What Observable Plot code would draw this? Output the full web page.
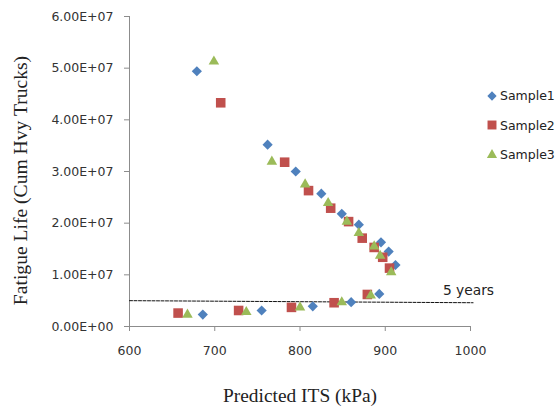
<!DOCTYPE html>
<html>
<head>
<meta charset="utf-8">
<script src="https://cdn.jsdelivr.net/npm/d3@7"></script>
<script src="https://cdn.jsdelivr.net/npm/@observablehq/plot@0.6"></script>
<style>
  html, body { margin: 0; padding: 0; background: #fff; }
  #wrap { position: relative; width: 556px; height: 409px; }
  #legend { position: absolute; left: 486px; top: 81px; font-family: "DejaVu Sans", sans-serif; font-size: 12.5px; color: #222; }
  #legend .row { display: flex; align-items: center; height: 29.5px; }
  #legend svg { width: 12px; height: 12px; margin-right: 2px; }
</style>
</head>
<body>
<div id="wrap"></div>
<script>
// ---- data ----
const seriesNames = ["Sample1", "Sample2", "Sample3"];
const seriesColors = ["#4F81BD", "#C0504D", "#9BBB59"];
const seriesSymbols = ["diamond2", "square", "triangle"];

const sample1X = [679, 762, 795, 825, 849, 869, 895, 904, 912, 893, 860, 815, 755, 686];
const sample1Y = [4.94e7, 3.52e7, 3.00e7, 2.57e7, 2.18e7, 1.97e7, 1.63e7, 1.45e7, 1.19e7, 6.3e6, 4.7e6, 3.9e6, 3.1e6, 2.3e6];

const sample2X = [707, 782, 810, 836, 857, 873, 887, 897, 905, 879, 840, 790, 728, 657];
const sample2Y = [4.33e7, 3.18e7, 2.63e7, 2.29e7, 2.03e7, 1.71e7, 1.53e7, 1.34e7, 1.13e7, 6.2e6, 4.6e6, 3.7e6, 3.1e6, 2.6e6];

const sample3X = [699, 767, 806, 833, 855, 869, 887, 894, 907, 883, 849, 800, 737, 668];
const sample3Y = [5.13e7, 3.19e7, 2.75e7, 2.39e7, 2.03e7, 1.81e7, 1.55e7, 1.37e7, 1.05e7, 6.0e6, 4.7e6, 3.7e6, 2.8e6, 2.3e6];

const thresholdX = [600, 1003];
const thresholdY = [5.0e6, 4.6e6];
const thresholdLabel = "5 years";

const xTicks = [600, 700, 800, 900, 1000];
const yTicks = [0, 1e7, 2e7, 3e7, 4e7, 5e7, 6e7];
const xTitle = "Predicted ITS (kPa)";
const yTitle = "Fatigue Life (Cum Hvy Trucks)";

// ---- build tables ----
const allX = [sample1X, sample2X, sample3X];
const allY = [sample1Y, sample2Y, sample3Y];
const points = [];
allX.forEach((xs, s) => xs.forEach((x, i) => points.push({series: seriesNames[s], x, y: allY[s][i], s})));
const threshold = thresholdX.map((x, i) => ({x, y: thresholdY[i]}));

function sci(d) {
  if (d === 0) return "0.00E+00";
  const e = Math.floor(Math.log10(Math.abs(d)));
  const m = d / Math.pow(10, e);
  return m.toFixed(2) + "E" + (e >= 0 ? "+" : "-") + String(Math.abs(e)).padStart(2, "0");
}

const sans = "'DejaVu Sans', sans-serif";
const serif = "'Liberation Serif', 'DejaVu Serif', serif";
const axisColor = "#8c8c8c";

const markSets = [0, 1, 2].map(s => Plot.dot(points.filter(p => p.s === s), {
  x: "x", y: "y",
  symbol: () => seriesSymbols[s],
  fill: seriesColors[s],
  stroke: "none",
  r: s === 0 ? 4.6 : s === 1 ? 5.4 : 3.9
}));

const chart = Plot.plot({
  width: 556,
  height: 409,
  marginLeft: 129,
  marginRight: 86,
  marginTop: 16,
  marginBottom: 83,
  style: {background: "#fff", overflow: "visible"},
  x: {domain: [600, 1000]},
  y: {domain: [0, 6e7]},
  symbol: {type: "identity"},
  marks: [
    Plot.ruleX([600], {stroke: axisColor, strokeWidth: 1}),
    Plot.ruleY([0], {stroke: axisColor, strokeWidth: 1}),
    Plot.axisX({ticks: xTicks, tickSize: 5, tickPadding: 15, stroke: axisColor, color: "#333", fontSize: 12.5, fontFamily: sans, tickFormat: d => String(d), label: null}),
    Plot.axisY({ticks: yTicks, tickSize: 5, tickPadding: 11, stroke: axisColor, color: "#333", fontSize: 12.5, fontFamily: sans, tickFormat: sci, label: null}),
    Plot.line(threshold, {x: "x", y: "y", stroke: "#111", strokeWidth: 1, strokeDasharray: "3,1.5"}),
    Plot.text([threshold[threshold.length - 1]], {x: "x", y: "y", text: () => thresholdLabel, textAnchor: "end", dx: 21, dy: -12, fontSize: 13.8, fontFamily: sans, fill: "#222"}),
    ...markSets,
    Plot.text([xTitle], {text: d => d, frameAnchor: "bottom", textAnchor: "middle", dy: 75, fontSize: 19.4, fontFamily: serif, fill: "#222"}),
    Plot.text([yTitle], {text: d => d, frameAnchor: "left", textAnchor: "middle", rotate: -90, dx: -109, dy: 9, fontSize: 19.6, fontFamily: serif, fill: "#222"})
  ]
});

const wrap = document.getElementById("wrap");
wrap.appendChild(chart);

// ---- legend ----
const legend = document.createElement("div");
legend.id = "legend";
seriesNames.forEach((name, s) => {
  const row = document.createElement("div");
  row.className = "row";
  const sym = seriesSymbols[s] === "diamond2" ? d3.symbolDiamond2 : seriesSymbols[s] === "square" ? d3.symbolSquare : d3.symbolTriangle;
  const size = s === 0 ? 55 : s === 1 ? 80 : 45;
  const path = d3.symbol(sym, size)();
  row.innerHTML = `<svg viewBox="-6 -6 12 12"><path d="${path}" fill="${seriesColors[s]}"></path></svg><span>${name}</span>`;
  legend.appendChild(row);
});
wrap.appendChild(legend);
</script>
</body>
</html>
